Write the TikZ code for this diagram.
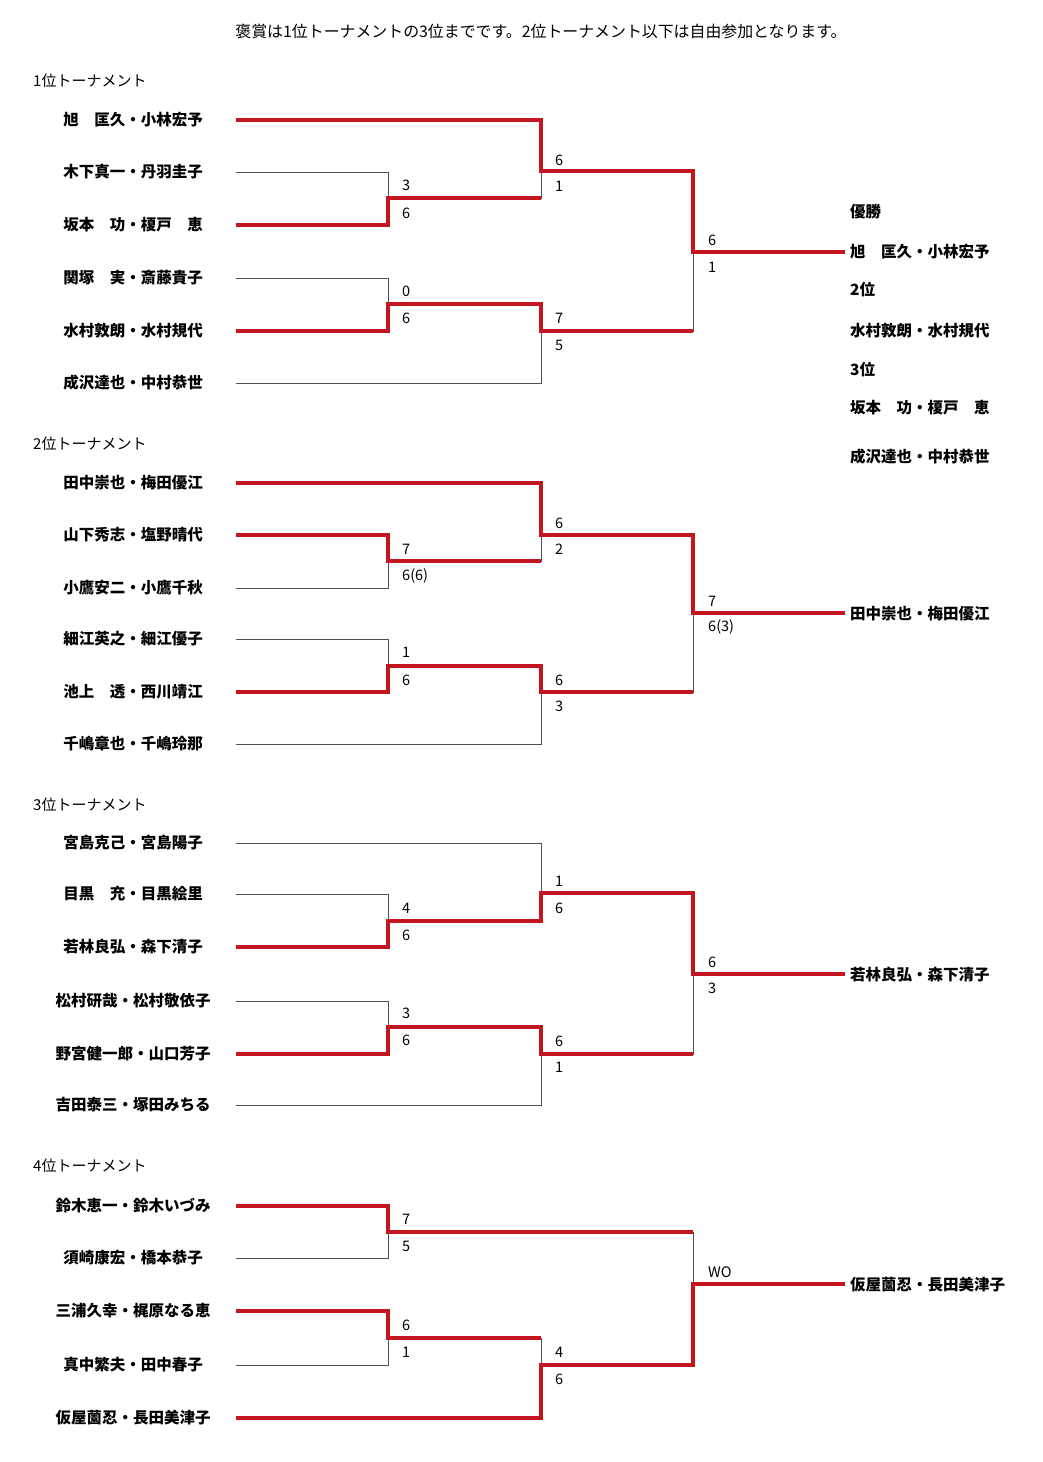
\documentclass[tikz,border=0pt]{standalone}
\usepackage{fontspec}
\setmainfont{Noto Sans CJK JP}
\usetikzlibrary{calc,positioning}
\definecolor{winred}{RGB}{196,22,32}
\definecolor{linegray}{RGB}{80,80,80}

\tikzset{
  player/.style={inner sep=0pt, font=\bfseries\fontsize{15.5}{18}\selectfont},
  result/.style={anchor=west, inner sep=0pt, font=\bfseries\fontsize{15.5}{18}\selectfont},
  heading/.style={anchor=west, inner sep=0pt, font=\fontsize{15}{18}\selectfont},
  score/.style={anchor=west, inner sep=0pt, font=\fontsize{14.5}{16}\selectfont},
  lose/.style={draw=linegray, line width=1pt},
  win/.style={draw=winred, line width=3.5pt, line join=miter},
}

\begin{document}
\begin{tikzpicture}[x=1pt, y=-1pt]
    \useasboundingbox (0,0) rectangle (1043,1462);

    %title
    \node[heading, anchor=center, font=\fontsize{15.9}{18}\selectfont] (title) at (541,31) {褒賞は1位トーナメントの3位までです。2位トーナメント以下は自由参加となります。};

    %1位トーナメント
    \node[heading] (ha) at (33,81) {1位トーナメント};
    \foreach \y/\t [count=\i] in {120/旭　匡久・小林宏予, 172/木下真一・丹羽圭子, 225/坂本　功・榎戸　恵,
                                  278/関塚　実・斎藤貴子, 331/水村敦朗・水村規代, 383/成沢達也・中村恭世} {
        \node[player] (a\i) at (133,\y) {\t};
        \coordinate (as\i) at (236,\y);
    }
    \coordinate (am1) at (388,198);
    \coordinate (am2) at (388,304);
    \coordinate (aq1) at (541,171);
    \coordinate (aq2) at (541,331);
    \coordinate (af) at (693,252);
    \coordinate (aw) at (845,252);

    \draw[lose] (as1) -| (aq1);
    \draw[lose] (as2) -| (am1) -| (aq1) -| (af) -- (aw);
    \draw[lose] (as3) -| (am1);
    \draw[lose] (as4) -| (am2) -| (aq2) -| (af);
    \draw[lose] (as5) -| (am2);
    \draw[lose] (as6) -| (aq2);

    \draw[win] (as1) -| (aq1) -| (af) -- (aw);
    \draw[win] (as3) -| (am1) -- (am1 -| aq1);
    \draw[win] (as5) -| (am2) -| (aq2) -- (aq2 -| af);

    \foreach \x/\y/\t [count=\i] in {402/185/3, 402/213/6, 555/160/6, 555/186/1, 402/291/0,
                                     402/318/6, 555/318/7, 555/345/5, 708/240/6, 708/267/1}
        \node[score] (ascore\i) at (\x,\y) {\t};

    \node[result] (ar1) at (850,212) {優勝};
    \node[result] (ar2) at (850,252) {旭　匡久・小林宏予};
    \node[result] (ar3) at (850,290) {2位};
    \node[result] (ar4) at (850,331) {水村敦朗・水村規代};
    \node[result] (ar5) at (850,370) {3位};
    \node[result] (ar6) at (850,408) {坂本　功・榎戸　恵};
    \node[result] (ar7) at (850,457) {成沢達也・中村恭世};

    %2位トーナメント
    \node[heading] (hb) at (33,444) {2位トーナメント};
    \foreach \y/\t [count=\i] in {483/田中崇也・梅田優江, 535/山下秀志・塩野晴代, 588/小鷹安二・小鷹千秋,
                                  639/細江英之・細江優子, 692/池上　透・西川靖江, 744/千嶋章也・千嶋玲那} {
        \node[player] (b\i) at (133,\y) {\t};
        \coordinate (bs\i) at (236,\y);
    }
    \coordinate (bm1) at (388,561);
    \coordinate (bm2) at (388,666);
    \coordinate (bq1) at (541,535);
    \coordinate (bq2) at (541,692);
    \coordinate (bf) at (693,613);
    \coordinate (bw) at (845,613);

    \draw[lose] (bs1) -| (bq1);
    \draw[lose] (bs2) -| (bm1) -| (bq1) -| (bf) -- (bw);
    \draw[lose] (bs3) -| (bm1);
    \draw[lose] (bs4) -| (bm2) -| (bq2) -| (bf);
    \draw[lose] (bs5) -| (bm2);
    \draw[lose] (bs6) -| (bq2);

    \draw[win] (bs1) -| (bq1) -| (bf) -- (bw);
    \draw[win] (bs2) -| (bm1) -- (bm1 -| bq1);
    \draw[win] (bs5) -| (bm2) -| (bq2) -- (bq2 -| bf);

    \foreach \x/\y/\t [count=\i] in {402/549/7, 402/576/6(6), 555/523/6, 555/549/2, 402/652/1,
                                     402/680/6, 555/680/6, 555/706/3, 708/601/7, 708/627/6(3)}
        \node[score] (bscore\i) at (\x,\y) {\t};

    \node[result] (br1) at (850,614) {田中崇也・梅田優江};

    %3位トーナメント
    \node[heading] (hc) at (33,805) {3位トーナメント};
    \foreach \y/\t [count=\i] in {843/宮島克己・宮島陽子, 894/目黒　充・目黒絵里, 947/若林良弘・森下清子,
                                  1001/松村研哉・松村敬依子, 1054/野宮健一郎・山口芳子, 1105/吉田泰三・塚田みちる} {
        \node[player] (c\i) at (133,\y) {\t};
        \coordinate (cs\i) at (236,\y);
    }
    \coordinate (cm1) at (388,921);
    \coordinate (cm2) at (388,1027);
    \coordinate (cq1) at (541,893);
    \coordinate (cq2) at (541,1054);
    \coordinate (cf) at (693,974);
    \coordinate (cw) at (845,974);

    \draw[lose] (cs1) -| (cq1);
    \draw[lose] (cs2) -| (cm1) -| (cq1) -| (cf) -- (cw);
    \draw[lose] (cs3) -| (cm1);
    \draw[lose] (cs4) -| (cm2) -| (cq2) -| (cf);
    \draw[lose] (cs5) -| (cm2);
    \draw[lose] (cs6) -| (cq2);

    \draw[win] (cs3) -| (cm1) -| (cq1) -| (cf) -- (cw);
    \draw[win] (cs5) -| (cm2) -| (cq2) -- (cq2 -| cf);

    \foreach \x/\y/\t [count=\i] in {402/908/4, 402/935/6, 555/881/1, 555/908/6, 402/1013/3,
                                     402/1040/6, 555/1041/6, 555/1067/1, 708/962/6, 708/988/3}
        \node[score] (cscore\i) at (\x,\y) {\t};

    \node[result] (cr1) at (850,975) {若林良弘・森下清子};

    %4位トーナメント
    \node[heading] (hd) at (33,1166) {4位トーナメント};
    \foreach \y/\t [count=\i] in {1206/鈴木恵一・鈴木いづみ, 1258/須崎康宏・橋本恭子, 1311/三浦久幸・梶原なる恵,
                                  1365/真中繁夫・田中春子, 1418/仮屋薗忍・長田美津子} {
        \node[player] (d\i) at (133,\y) {\t};
        \coordinate (ds\i) at (236,\y);
    }
    \coordinate (dm1) at (388,1232);
    \coordinate (dm2) at (388,1338);
    \coordinate (dq2) at (541,1365);
    \coordinate (df) at (693,1284);
    \coordinate (dw) at (845,1284);

    \draw[lose] (ds1) -| (dm1);
    \draw[lose] (ds2) -| (dm1) -| (df) -- (dw);
    \draw[lose] (ds3) -| (dm2) -| (dq2) -| (df);
    \draw[lose] (ds4) -| (dm2);
    \draw[lose] (ds5) -| (dq2);

    \draw[win] (ds1) -| (dm1) -- (dm1 -| df);
    \draw[win] (ds3) -| (dm2) -- (dm2 -| dq2);
    \draw[win] (ds5) -| (dq2) -| (df) -- (dw);

    \foreach \x/\y/\t [count=\i] in {402/1219/7, 402/1246/5, 402/1325/6, 402/1352/1,
                                     555/1352/4, 555/1379/6, 708/1272/WO}
        \node[score] (dscore\i) at (\x,\y) {\t};

    \node[result] (dr1) at (850,1285) {仮屋薗忍・長田美津子};

\end{tikzpicture}
\end{document}
